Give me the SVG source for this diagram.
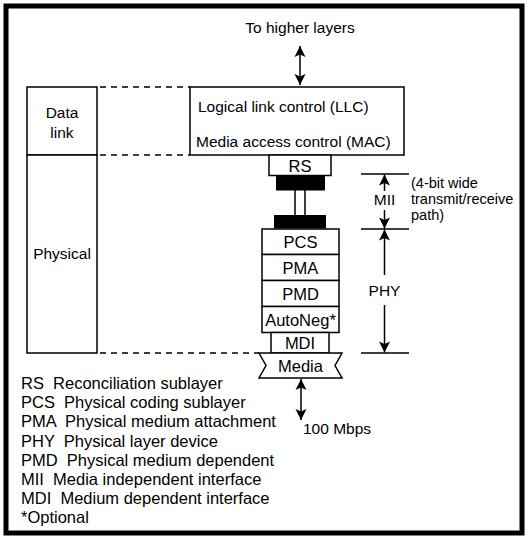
<svg xmlns="http://www.w3.org/2000/svg" width="529" height="538" viewBox="0 0 529 538">
<style>
text{font-family:"Liberation Sans",Arial,sans-serif;font-size:15.5px;fill:#000}
.c{text-anchor:middle}
.st{font-size:16.5px}
.lg{font-size:16.5px;white-space:pre}
.note{font-size:14.5px}
.box{fill:#fff;stroke:#000;stroke-width:1.5}
.blk{fill:#000;stroke:none}
.ln{fill:none;stroke:#000;stroke-width:1.5}
.dash{fill:none;stroke:#000;stroke-width:1.5;stroke-dasharray:6 5}
.arr{fill:none;stroke:#000;stroke-width:1.5;marker-end:url(#ah)}
.arr2{fill:none;stroke:#000;stroke-width:1.5;marker-start:url(#ah);marker-end:url(#ah)}
</style>
<defs>
<marker id="ah" viewBox="-12 -6 13 12" refX="0" refY="0" markerWidth="13" markerHeight="12" markerUnits="userSpaceOnUse" orient="auto-start-reverse">
<path d="M0,0 L-11,-5.5 L-8.5,0 L-11,5.5 Z" fill="#000"/>
</marker>
</defs>
<rect x="6" y="6" width="516" height="527" fill="#fff" stroke="#000" stroke-width="5"/>

<g id="connectors">
<line class="arr2" x1="300" y1="46" x2="300" y2="85"/>
<line class="dash" x1="100" y1="87" x2="190" y2="87"/>
<line class="dash" x1="100" y1="155" x2="190" y2="155"/>
<line class="dash" x1="100" y1="353" x2="259" y2="353"/>
<line class="ln" x1="361" y1="174" x2="409" y2="174"/>
<line class="ln" x1="361" y1="229" x2="409" y2="229"/>
<line class="ln" x1="361" y1="353" x2="409" y2="353"/>
<line class="arr" x1="384.5" y1="191" x2="384.5" y2="174.5"/>
<line class="arr" x1="384.5" y1="210" x2="384.5" y2="228.5"/>
<line class="arr" x1="384.5" y1="275" x2="384.5" y2="229.5"/>
<line class="arr" x1="384.5" y1="305" x2="384.5" y2="352.5"/>
<line class="arr2" x1="301" y1="379" x2="301" y2="420"/>
<line class="ln" x1="295" y1="190" x2="295" y2="215"/>
<line class="ln" x1="305" y1="190" x2="305" y2="215"/>
</g>

<g id="higher">
<text class="c" x="300" y="33">To higher layers</text>
</g>

<g id="datalink">
<rect class="box" x="27" y="87" width="70" height="68"/>
<text class="c" x="62" y="118">Data</text>
<text class="c" x="62" y="138">link</text>
</g>

<g id="physical">
<rect class="box" x="27" y="155" width="70" height="198"/>
<text class="c" x="62" y="259">Physical</text>
</g>

<g id="llcmac">
<rect class="box" x="190" y="87" width="214" height="68"/>
<text x="198" y="112">Logical link control (LLC)</text>
<text x="196" y="147">Media access control (MAC)</text>
</g>

<g id="rs">
<rect class="box" x="269" y="155" width="62" height="20.5"/>
<text class="c st" x="300" y="171.5">RS</text>
</g>

<g id="mii-connector">
<rect class="blk" x="276" y="175.5" width="49" height="15"/>
<rect class="blk" x="274" y="215" width="52" height="13.5"/>
</g>

<g id="mii-label">
<text class="c" x="384.5" y="205">MII</text>
<text class="note" x="411" y="188">(4-bit wide</text>
<text class="note" x="411" y="204">transmit/receive</text>
<text class="note" x="411" y="220">path)</text>
</g>

<g id="pcs">
<rect class="box" x="262" y="229" width="77" height="25.5"/>
<text class="c st" x="300.5" y="248">PCS</text>
</g>
<g id="pma">
<rect class="box" x="262" y="254.5" width="77" height="26"/>
<text class="c st" x="300.5" y="273.5">PMA</text>
</g>
<g id="pmd">
<rect class="box" x="262" y="280.5" width="77" height="26"/>
<text class="c st" x="300.5" y="299.5">PMD</text>
</g>
<g id="autoneg">
<rect class="box" x="262" y="306.5" width="77" height="26"/>
<text class="c st" x="300.5" y="325.5">AutoNeg*</text>
</g>
<g id="mdi">
<rect class="box" x="271" y="332.5" width="58" height="20.5"/>
<text class="c st" x="300" y="349">MDI</text>
</g>
<g id="media">
<polygon class="box" points="259,353 342,353 335,365.5 342,378 259,378 266,365.5"/>
<text class="c st" x="300.5" y="371.5">Media</text>
</g>

<g id="phy-label">
<text class="c" x="384.5" y="296">PHY</text>
</g>

<g id="rate">
<text x="303" y="434">100 Mbps</text>
</g>

<g id="legend">
<text class="lg" x="21" y="389">RS  Reconciliation sublayer</text>
<text class="lg" x="21" y="408">PCS  Physical coding sublayer</text>
<text class="lg" x="21" y="427">PMA  Physical medium attachment</text>
<text class="lg" x="21" y="446.5">PHY  Physical layer device</text>
<text class="lg" x="21" y="465.5">PMD  Physical medium dependent</text>
<text class="lg" x="21" y="484.5">MII  Media independent interface</text>
<text class="lg" x="21" y="503.5">MDI  Medium dependent interface</text>
<text class="lg" x="21" y="522.5">*Optional</text>
</g>
</svg>
